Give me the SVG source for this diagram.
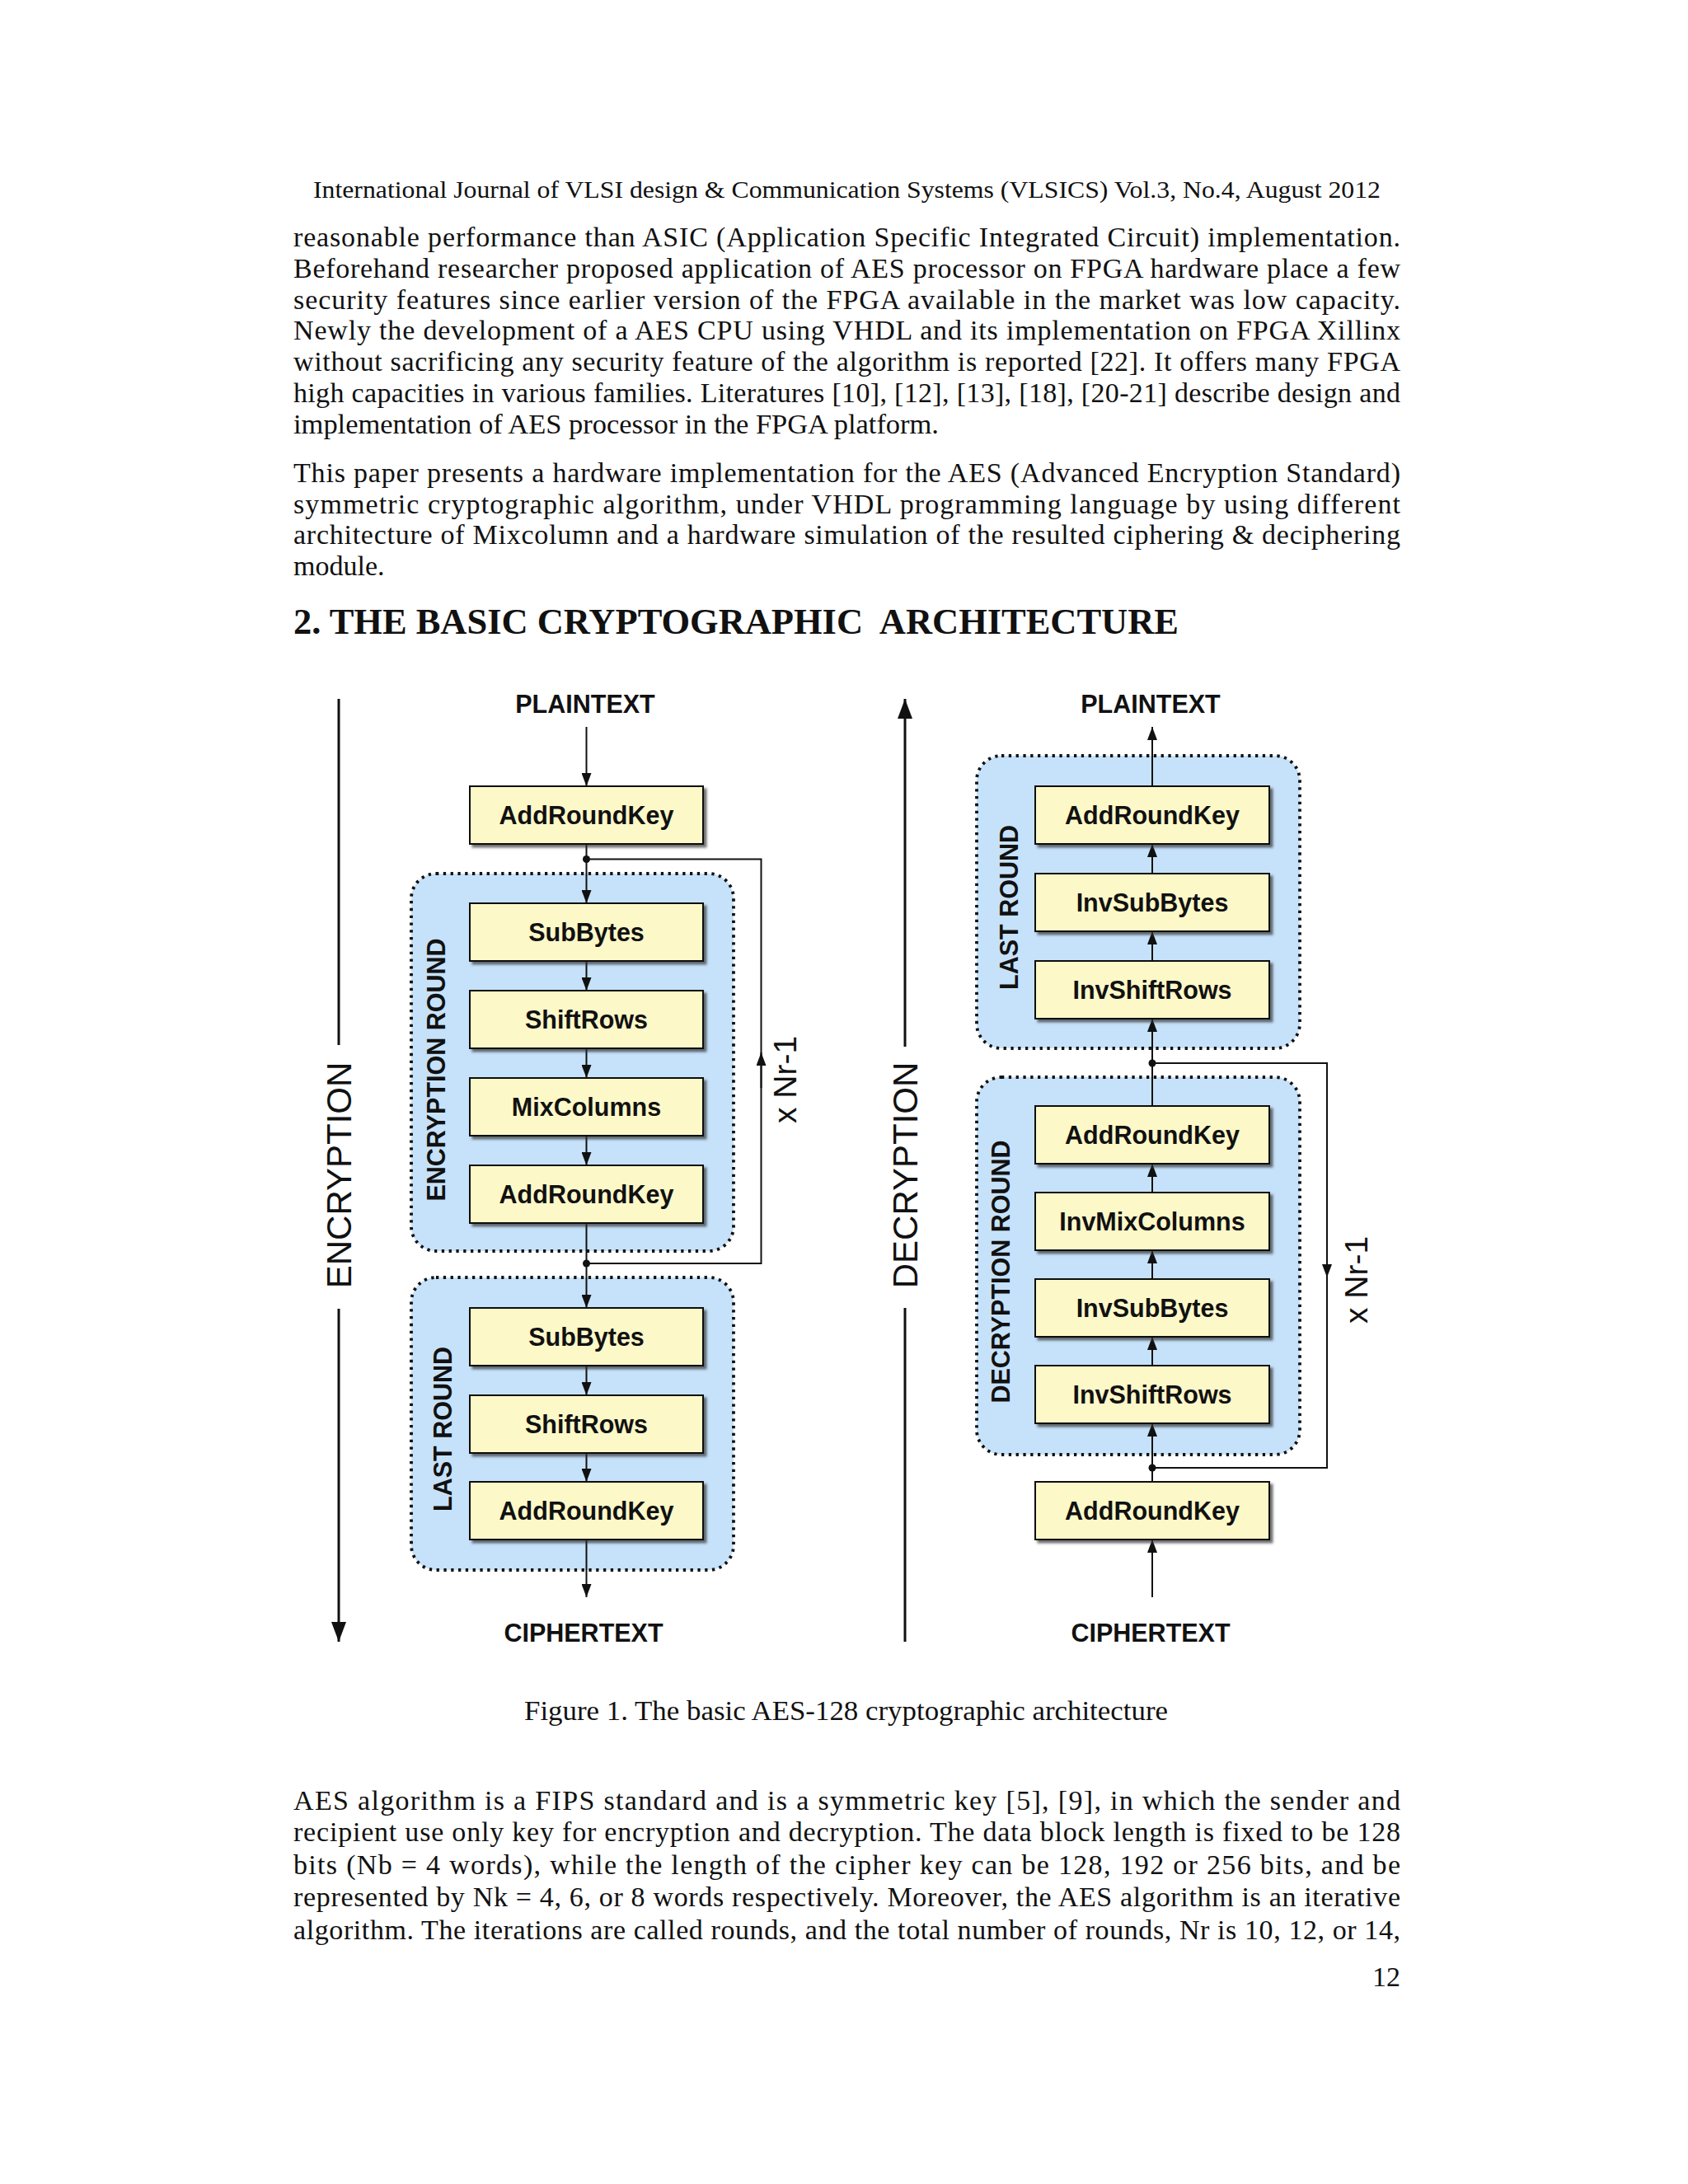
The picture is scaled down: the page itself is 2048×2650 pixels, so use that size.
<svg xmlns="http://www.w3.org/2000/svg" width="2048" height="2650" viewBox="0 0 2048 2650">
<defs>
<style>
.pg{font-family:"Liberation Serif","Times New Roman",serif;fill:#111;}
.body{font-size:34px;}
.hdr{font-size:30px;}
.h2{font-size:44px;font-weight:bold;}
.lbl{font-family:"Liberation Sans",Arial,sans-serif;font-weight:bold;font-size:30.5px;fill:#111;text-anchor:middle;}
.big{font-family:"Liberation Sans",Arial,sans-serif;font-size:42px;fill:#111;text-anchor:middle;}
.nr{font-family:"Liberation Sans",Arial,sans-serif;font-size:39px;fill:#111;text-anchor:middle;}
.box{fill:#FDF8C8;stroke:#111;stroke-width:2;filter:url(#sh);}
.region{fill:#C6E2FA;stroke:#111;stroke-width:3.8;stroke-dasharray:3.3 5.5;}
.conn{fill:none;stroke:#111;stroke-width:2;}
.axis{fill:none;stroke:#111;stroke-width:3;}
.dot{fill:#111;}
</style>
<filter id="sh" x="-10%" y="-10%" width="130%" height="140%">
<feDropShadow dx="3.5" dy="3.5" stdDeviation="1.5" flood-color="#333" flood-opacity="0.7"/>
</filter>
<marker id="ah" markerUnits="userSpaceOnUse" markerWidth="16" markerHeight="12" refX="16" refY="6" orient="auto">
<path d="M0,0 L16,6 L0,12 z" fill="#111"/>
</marker>
<marker id="bh" markerUnits="userSpaceOnUse" markerWidth="24" markerHeight="18" refX="24" refY="9" orient="auto">
<path d="M0,0 L24,9 L0,18 z" fill="#111"/>
</marker>
</defs>
<rect width="2048" height="2650" fill="#fff"/>

<g id="page-text" class="pg">
<text class="hdr" x="380" y="240" textLength="1295" lengthAdjust="spacingAndGlyphs">International Journal of VLSI design &amp; Communication Systems (VLSICS) Vol.3, No.4, August 2012</text>
<text class="body" x="356" y="299" textLength="1343" lengthAdjust="spacing">reasonable performance than ASIC (Application Specific Integrated Circuit) implementation.</text>
<text class="body" x="356" y="337" textLength="1343" lengthAdjust="spacing">Beforehand researcher proposed application of AES processor on FPGA hardware place a few</text>
<text class="body" x="356" y="375" textLength="1343" lengthAdjust="spacing">security features since earlier version of the FPGA available in the market was low capacity.</text>
<text class="body" x="356" y="412" textLength="1343" lengthAdjust="spacing">Newly the development of a AES CPU using VHDL and its implementation on FPGA Xillinx</text>
<text class="body" x="356" y="450" textLength="1343" lengthAdjust="spacing">without sacrificing any security feature of the algorithm is reported [22]. It offers many FPGA</text>
<text class="body" x="356" y="488" textLength="1343" lengthAdjust="spacing">high capacities in various families. Literatures [10], [12], [13], [18], [20-21] describe design and</text>
<text class="body" x="356" y="526" textLength="783" lengthAdjust="spacingAndGlyphs">implementation of AES processor in the FPGA platform.</text>
<text class="body" x="356" y="585" textLength="1343" lengthAdjust="spacing">This paper presents a hardware implementation for the AES (Advanced Encryption Standard)</text>
<text class="body" x="356" y="623" textLength="1343" lengthAdjust="spacing">symmetric cryptographic algorithm, under VHDL programming language by using different</text>
<text class="body" x="356" y="660" textLength="1343" lengthAdjust="spacing">architecture of Mixcolumn and a hardware simulation of the resulted ciphering &amp; deciphering</text>
<text class="body" x="356" y="698">module.</text>
<text class="h2" x="356" y="769" textLength="1074" lengthAdjust="spacingAndGlyphs" xml:space="preserve">2. THE BASIC CRYPTOGRAPHIC  ARCHITECTURE</text>
<text class="body" x="636" y="2087" textLength="781" lengthAdjust="spacingAndGlyphs">Figure 1. The basic AES-128 cryptographic architecture</text>
<text class="body" x="356" y="2196" textLength="1343" lengthAdjust="spacing">AES algorithm is a FIPS standard and is a symmetric key [5], [9], in which the sender and</text>
<text class="body" x="356" y="2234" textLength="1343" lengthAdjust="spacing">recipient use only key for encryption and decryption. The data block length is fixed to be 128</text>
<text class="body" x="356" y="2274" textLength="1343" lengthAdjust="spacing">bits (Nb = 4 words), while the length of the cipher key can be 128, 192 or 256 bits, and be</text>
<text class="body" x="356" y="2313" textLength="1343" lengthAdjust="spacing">represented by Nk = 4, 6, or 8 words respectively. Moreover, the AES algorithm is an iterative</text>
<text class="body" x="356" y="2353" textLength="1343" lengthAdjust="spacing">algorithm. The iterations are called rounds, and the total number of rounds, Nr is 10, 12, or 14,</text>
<text class="body" x="1699" y="2410" text-anchor="end">12</text>
</g>

<g id="regions">
<g id="enc-round"><rect class="region" x="499" y="1060" width="391" height="458" rx="30"/><text class="lbl" transform="translate(540,1298) rotate(-90)">ENCRYPTION ROUND</text></g>
<g id="enc-last-round"><rect class="region" x="499" y="1550" width="391" height="355" rx="30"/><text class="lbl" transform="translate(548,1734) rotate(-90)">LAST ROUND</text></g>
<g id="dec-last-round"><rect class="region" x="1185" y="917" width="392" height="355" rx="30"/><text class="lbl" transform="translate(1235,1101) rotate(-90)">LAST ROUND</text></g>
<g id="dec-round"><rect class="region" x="1185" y="1307" width="392" height="458" rx="30"/><text class="lbl" transform="translate(1225,1543) rotate(-90)">DECRYPTION ROUND</text></g>
</g>

<g id="connectors">
<path class="axis" d="M411,848 V1268"/>
<path class="axis" d="M411,1588 V1992" marker-end="url(#bh)"/>
<path class="axis" d="M1098,1270 V848" marker-end="url(#bh)"/>
<path class="axis" d="M1098,1587 V1992"/>

<path class="conn" d="M711.5,882 V954" marker-end="url(#ah)"/>
<path class="conn" d="M711.5,1024 V1096" marker-end="url(#ah)"/>
<path class="conn" d="M711.5,1166 V1202" marker-end="url(#ah)"/>
<path class="conn" d="M711.5,1272 V1308" marker-end="url(#ah)"/>
<path class="conn" d="M711.5,1378 V1414" marker-end="url(#ah)"/>
<path class="conn" d="M711.5,1484 V1587" marker-end="url(#ah)"/>
<path class="conn" d="M711.5,1657 V1693" marker-end="url(#ah)"/>
<path class="conn" d="M711.5,1763 V1798" marker-end="url(#ah)"/>
<path class="conn" d="M711.5,1868 V1938" marker-end="url(#ah)"/>
<path class="conn" d="M711.5,1042.5 H923.5 V1533 H711.5"/>
<path class="conn" d="M923.5,1320 V1277" marker-end="url(#ah)"/>
<circle class="dot" cx="711.5" cy="1042.5" r="4.5"/>
<circle class="dot" cx="711.5" cy="1533" r="4.5"/>

<path class="conn" d="M1398,954 V882" marker-end="url(#ah)"/>
<path class="conn" d="M1398,1060 V1024" marker-end="url(#ah)"/>
<path class="conn" d="M1398,1166 V1130" marker-end="url(#ah)"/>
<path class="conn" d="M1398,1342 V1236" marker-end="url(#ah)"/>
<path class="conn" d="M1398,1447 V1412" marker-end="url(#ah)"/>
<path class="conn" d="M1398,1552 V1517" marker-end="url(#ah)"/>
<path class="conn" d="M1398,1657 V1622" marker-end="url(#ah)"/>
<path class="conn" d="M1398,1798 V1727" marker-end="url(#ah)"/>
<path class="conn" d="M1398,1938 V1868" marker-end="url(#ah)"/>
<path class="conn" d="M1398,1290 H1610 V1781 H1398"/>
<path class="conn" d="M1610,1500 V1550" marker-end="url(#ah)"/>
<circle class="dot" cx="1398" cy="1290" r="4.5"/>
<circle class="dot" cx="1398" cy="1781" r="4.5"/>
</g>

<g id="labels">
<text class="lbl" x="710" y="865">PLAINTEXT</text>
<text class="lbl" x="708" y="1992">CIPHERTEXT</text>
<text class="lbl" x="1396" y="865">PLAINTEXT</text>
<text class="lbl" x="1396" y="1992">CIPHERTEXT</text>
<text class="big" transform="translate(426,1426) rotate(-90)">ENCRYPTION</text>
<text class="big" transform="translate(1113,1426) rotate(-90)">DECRYPTION</text>
<text class="nr" transform="translate(966,1310) rotate(-90)">x Nr-1</text>
<text class="nr" transform="translate(1659,1553) rotate(-90)">x Nr-1</text>
</g>

<g id="enc-addroundkey-0"><rect class="box" x="570" y="954" width="283" height="70"/><text class="lbl" x="711.5" y="1000">AddRoundKey</text></g>
<g id="enc-subbytes-1"><rect class="box" x="570" y="1096" width="283" height="70"/><text class="lbl" x="711.5" y="1142">SubBytes</text></g>
<g id="enc-shiftrows-1"><rect class="box" x="570" y="1202" width="283" height="70"/><text class="lbl" x="711.5" y="1248">ShiftRows</text></g>
<g id="enc-mixcolumns-1"><rect class="box" x="570" y="1308" width="283" height="70"/><text class="lbl" x="711.5" y="1354">MixColumns</text></g>
<g id="enc-addroundkey-1"><rect class="box" x="570" y="1414" width="283" height="70"/><text class="lbl" x="711.5" y="1460">AddRoundKey</text></g>
<g id="enc-subbytes-2"><rect class="box" x="570" y="1587" width="283" height="70"/><text class="lbl" x="711.5" y="1633">SubBytes</text></g>
<g id="enc-shiftrows-2"><rect class="box" x="570" y="1693" width="283" height="70"/><text class="lbl" x="711.5" y="1739">ShiftRows</text></g>
<g id="enc-addroundkey-2"><rect class="box" x="570" y="1798" width="283" height="70"/><text class="lbl" x="711.5" y="1844">AddRoundKey</text></g>

<g id="dec-addroundkey-last"><rect class="box" x="1256" y="954" width="284" height="70"/><text class="lbl" x="1398" y="1000">AddRoundKey</text></g>
<g id="dec-invsubbytes-last"><rect class="box" x="1256" y="1060" width="284" height="70"/><text class="lbl" x="1398" y="1106">InvSubBytes</text></g>
<g id="dec-invshiftrows-last"><rect class="box" x="1256" y="1166" width="284" height="70"/><text class="lbl" x="1398" y="1212">InvShiftRows</text></g>
<g id="dec-addroundkey-1"><rect class="box" x="1256" y="1342" width="284" height="70"/><text class="lbl" x="1398" y="1388">AddRoundKey</text></g>
<g id="dec-invmixcolumns-1"><rect class="box" x="1256" y="1447" width="284" height="70"/><text class="lbl" x="1398" y="1493">InvMixColumns</text></g>
<g id="dec-invsubbytes-1"><rect class="box" x="1256" y="1552" width="284" height="70"/><text class="lbl" x="1398" y="1598">InvSubBytes</text></g>
<g id="dec-invshiftrows-1"><rect class="box" x="1256" y="1657" width="284" height="70"/><text class="lbl" x="1398" y="1703">InvShiftRows</text></g>
<g id="dec-addroundkey-0"><rect class="box" x="1256" y="1798" width="284" height="70"/><text class="lbl" x="1398" y="1844">AddRoundKey</text></g>
</svg>
